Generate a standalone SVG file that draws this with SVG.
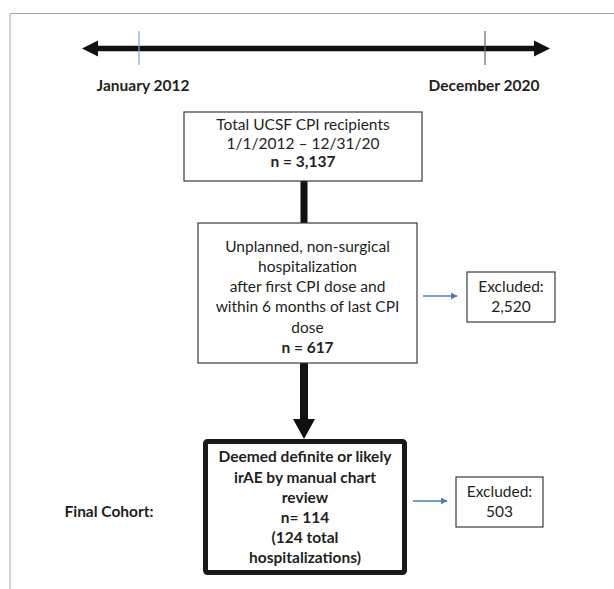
<svg xmlns="http://www.w3.org/2000/svg" width="614" height="589" viewBox="0 0 614 589">
<style>
text{font-family:Lato,"Open Sans","Liberation Sans",sans-serif;font-size:15.5px;fill:#231f20;text-anchor:middle}
.b{font-weight:bold}
.box{fill:#fff;stroke:#3a3a3a;stroke-width:1.2}
.blue{stroke:#4a7ebb;stroke-width:1.5;fill:none}
</style>
<defs>
<marker id="ba" viewBox="0 0 10 10" refX="9" refY="5" markerWidth="7" markerHeight="7" markerUnits="userSpaceOnUse" orient="auto"><path d="M0,0L10,5L0,10z" fill="#4a7ebb"/></marker>
</defs>
<rect width="614" height="589" fill="#fff"/>
<path d="M10,589V13.5H614" fill="none" stroke="#a6a6a6" stroke-width="1"/>
<g id="timeline">
<line x1="94" y1="48.5" x2="538" y2="48.5" stroke="#111" stroke-width="5.5"/>
<path d="M82,48.5L98,40.5V56.5z" fill="#111"/>
<path d="M550,48.5L534,40.5V56.5z" fill="#111"/>
<line x1="139" y1="31" x2="139" y2="65" stroke="#7ea1cf" stroke-width="1.2"/>
<line x1="485" y1="31" x2="485" y2="65" stroke="#666" stroke-width="1.2"/>
<text class="b" x="143" y="91">January 2012</text>
<text class="b" x="484" y="91">December 2020</text>
</g>
<g id="connectors">
<line x1="304" y1="181" x2="304" y2="223" stroke="#111" stroke-width="7"/>
<line x1="304" y1="363" x2="304" y2="421" stroke="#111" stroke-width="8"/>
<path d="M293,419L315,419L304,439z" fill="#111"/>
<line class="blue" x1="423" y1="296" x2="457" y2="296" marker-end="url(#ba)"/>
<line class="blue" x1="413" y1="501" x2="447" y2="501" marker-end="url(#ba)"/>
</g>
<g id="n1">
<rect class="box" x="184" y="112" width="238" height="69"/>
<text x="303" y="130">Total UCSF CPI recipients</text>
<text x="303" y="149">1/1/2012 – 12/31/20</text>
<text class="b" x="303" y="167">n = 3,137</text>
</g>
<g id="n2">
<rect class="box" x="198" y="223" width="219" height="140"/>
<text x="307.5" y="252">Unplanned, non-surgical</text>
<text x="307.5" y="272">hospitalization</text>
<text x="307.5" y="292">after first CPI dose and</text>
<text x="307.5" y="312">within 6 months of last CPI</text>
<text x="307.5" y="333">dose</text>
<text class="b" x="307.5" y="353">n = 617</text>
</g>
<g id="ex1">
<rect class="box" x="467" y="272" width="88" height="50"/>
<text x="511" y="292">Excluded:</text>
<text x="511" y="312">2,520</text>
</g>
<g id="n3">
<rect x="205.5" y="441.5" width="199" height="131" rx="2" fill="#fff" stroke="#1a1a1a" stroke-width="5"/>
<text class="b" x="305" y="462">Deemed definite or likely</text>
<text class="b" x="305" y="483">irAE by manual chart</text>
<text class="b" x="305" y="503">review</text>
<text class="b" x="305" y="523">n= 114</text>
<text class="b" x="305" y="543">(124 total</text>
<text class="b" x="305" y="563">hospitalizations)</text>
</g>
<g id="label">
<text class="b" x="109" y="517">Final Cohort:</text>
</g>
<g id="ex2">
<rect class="box" x="456" y="477" width="87" height="50"/>
<text x="499.5" y="497">Excluded:</text>
<text x="499.5" y="517">503</text>
</g>
</svg>
